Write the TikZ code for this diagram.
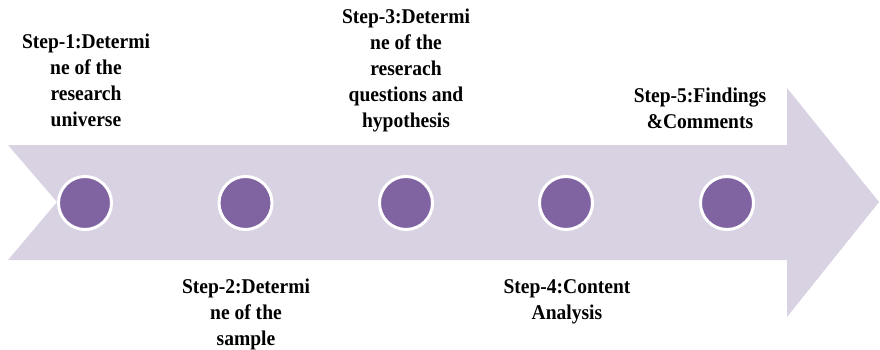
\documentclass[tikz,border=0pt]{standalone}
\usepackage{fontspec}
\setmainfont{Liberation Serif}
\newfontfamily\stepfont{Liberation Serif}[FakeStretch=0.93]
\definecolor{arrowfill}{HTML}{D8D2E3}
\definecolor{dotfill}{HTML}{8064A2}
\begin{document}
\begin{tikzpicture}[x=1pt,y=-1pt,
  dot/.style={circle,fill=dotfill,draw=white,line width=3pt,minimum size=53pt,inner sep=0pt},
  steptext/.style={align=center,anchor=north,inner sep=0pt,font=\stepfont\fontsize{21}{26}\selectfont\bfseries,text=black}]
\useasboundingbox (0,0) rectangle (880,350);
\fill[arrowfill] (8,145) -- (787,145) -- (787,88) -- (879,202) -- (787,317) -- (787,260) -- (8,260) -- (57,202) -- cycle;
\node[dot] (c1) at (85,203) {};
\node[dot] (c2) at (245.5,203) {};
\node[dot] (c3) at (406,203) {};
\node[dot] (c4) at (566,203) {};
\node[dot] (c5) at (727,203) {};
\node[steptext] (t1) at (86,34) {Step-1:Determi\\ne of the\\research\\universe};
\node[steptext] (t3) at (406,9) {Step-3:Determi\\ne of the\\reserach\\questions and\\hypothesis};
\node[steptext] (t5) at (700,88) {Step-5:Findings\\\&Comments};
\node[steptext] (t2) at (246,279) {Step-2:Determi\\ne of the\\sample};
\node[steptext] (t4) at (567,279) {Step-4:Content\\Analysis};
\end{tikzpicture}
\end{document}
